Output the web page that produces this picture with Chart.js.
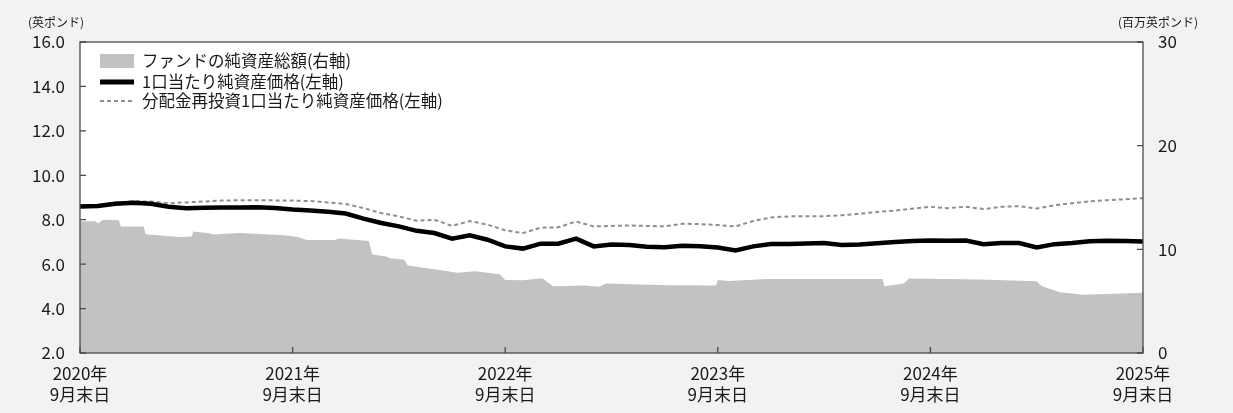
<!DOCTYPE html>
<html>
<head>
<meta charset="utf-8">
<script src="https://cdn.jsdelivr.net/npm/chart.js@4.4.1/dist/chart.umd.min.js"></script>
<style>
  html, body { margin: 0; padding: 0; background: #f1f2f1; }
  #wrap { position: relative; width: 1233px; height: 413px; }
  canvas { display: block; }
</style>
</head>
<body>
<div id="wrap"><canvas id="fundChart" width="1233" height="413"></canvas></div>
<script>
// x axis: months after end of Sept 2020 (0 .. 60), labelled once a year
const yearLabels = ['2020年', '2021年', '2022年', '2023年', '2024年', '2025年'];
const monthLabel = '9月末日';

// 1口当たり純資産価格 (英ポンド, left axis), one value per month end
const navPerUnit = [
  8.60, 8.62, 8.72, 8.76, 8.72, 8.58, 8.52, 8.54, 8.55, 8.55,
  8.56, 8.53, 8.46, 8.42, 8.36, 8.28, 8.05, 7.85, 7.70, 7.50,
  7.40, 7.15, 7.30, 7.10, 6.80, 6.70, 6.92, 6.92, 7.15, 6.80,
  6.88, 6.86, 6.78, 6.76, 6.83, 6.80, 6.75, 6.62, 6.80, 6.91,
  6.91, 6.93, 6.95, 6.86, 6.88, 6.94, 7.00, 7.04, 7.06, 7.05,
  7.06, 6.90, 6.95, 6.95, 6.75, 6.90, 6.95, 7.03, 7.05, 7.04,
  7.02
];

// 分配金再投資1口当たり純資産価格 (英ポンド, left axis)
const navReinvested = [
  8.63, 8.66, 8.76, 8.83, 8.82, 8.74, 8.78, 8.82, 8.86, 8.88,
  8.88, 8.87, 8.86, 8.84, 8.78, 8.71, 8.52, 8.30, 8.15, 7.95,
  8.00, 7.72, 7.94, 7.78, 7.52, 7.40, 7.64, 7.66, 7.92, 7.70,
  7.72, 7.74, 7.72, 7.70, 7.82, 7.80, 7.76, 7.70, 7.94, 8.10,
  8.15, 8.16, 8.16, 8.20, 8.27, 8.35, 8.41, 8.50, 8.58, 8.52,
  8.58, 8.48, 8.58, 8.61, 8.50, 8.65, 8.74, 8.83, 8.88, 8.92,
  8.97
];

// ファンドの純資産総額 (百万英ポンド, right axis): month positions and values
const fundMonths = [
  0, 0.9, 1.0, 1.3, 2.2, 2.3, 3.6, 3.7, 5.6, 6.3,
  6.4, 7.3, 7.5, 9.0, 11.5, 12.3, 12.8, 14.4, 14.6, 16.3,
  16.5, 17.3, 17.5, 18.3, 18.5, 20.4, 21.3, 22.3, 23.7, 24.0,
  25.0, 26.1, 26.7, 28.5, 29.3, 29.7, 33.1, 35.9, 36.0, 36.6,
  38.8, 45.3, 45.4, 46.5, 46.8, 50.8, 54.0, 54.3, 55.3, 56.3,
  56.5, 58.0, 60.0
];
const fundAssets = [
  12.70, 12.70, 12.50, 12.86, 12.80, 12.20, 12.20, 11.45, 11.20, 11.25,
  11.73, 11.55, 11.42, 11.58, 11.35, 11.20, 10.90, 10.90, 11.05, 10.80,
  9.50, 9.30, 9.15, 9.00, 8.45, 7.98, 7.73, 7.88, 7.60, 7.05,
  7.02, 7.20, 6.45, 6.50, 6.40, 6.70, 6.53, 6.50, 7.05, 6.95,
  7.15, 7.15, 6.45, 6.70, 7.18, 7.08, 6.92, 6.45, 5.86, 5.70,
  5.62, 5.70, 5.80
];

const legendItems = [
  'ファンドの純資産総額(右軸)',
  '1口当たり純資産価格(左軸)',
  '分配金再投資1口当たり純資産価格(左軸)'
];
const leftUnit = '(英ポンド)';
const rightUnit = '(百万英ポンド)';

const FONT = '"Noto Sans CJK JP", "Noto Sans", sans-serif';
const INK = '#1a1a1a';
const AREA = '#c1c2c1';
const DASH = '#8e8e8e';

const decor = {
  id: 'decor',
  beforeDraw(chart) {
    const { ctx, chartArea: a } = chart;
    ctx.save();
    ctx.fillStyle = '#f1f2f1';
    ctx.fillRect(0, 0, chart.width, chart.height);
    ctx.fillStyle = '#fff';
    ctx.fillRect(a.left, a.top, a.right - a.left, a.bottom - a.top);
    ctx.restore();
  },
  afterDraw(chart) {
    const { ctx, chartArea: a, scales } = chart;
    ctx.save();
    ctx.strokeStyle = '#4a4a4a';
    ctx.lineWidth = 1.3;
    ctx.strokeRect(a.left, a.top, a.right - a.left, a.bottom - a.top);

    // inward tick marks
    ctx.beginPath();
    scales.y.ticks.forEach((t) => {
      const py = scales.y.getPixelForValue(t.value);
      ctx.moveTo(a.left, py);
      ctx.lineTo(a.left + 6, py);
    });
    scales.y1.ticks.forEach((t) => {
      const py = scales.y1.getPixelForValue(t.value);
      ctx.moveTo(a.right, py);
      ctx.lineTo(a.right - 6, py);
    });
    scales.x.ticks.forEach((t) => {
      const px = scales.x.getPixelForValue(t.value);
      ctx.moveTo(px, a.bottom);
      ctx.lineTo(px, a.bottom - 6);
    });
    ctx.stroke();

    // legend
    const lx = 100, lw = 34, tx = 142;
    const rows = [61, 82, 101];
    ctx.fillStyle = AREA;
    ctx.fillRect(lx, rows[0] - 7, lw, 14);
    ctx.strokeStyle = '#000';
    ctx.lineWidth = 5;
    ctx.beginPath();
    ctx.moveTo(lx, rows[1]);
    ctx.lineTo(lx + lw, rows[1]);
    ctx.stroke();
    ctx.strokeStyle = DASH;
    ctx.lineWidth = 2;
    ctx.setLineDash([4, 3]);
    ctx.beginPath();
    ctx.moveTo(lx, rows[2]);
    ctx.lineTo(lx + lw, rows[2]);
    ctx.stroke();
    ctx.setLineDash([]);

    ctx.fillStyle = INK;
    ctx.font = '16.5px ' + FONT;
    ctx.textAlign = 'left';
    ctx.textBaseline = 'middle';
    legendItems.forEach((txt, i) => ctx.fillText(txt, tx, rows[i]));

    // unit labels
    ctx.font = '12px ' + FONT;
    ctx.fillText(leftUnit, 28, 22);
    ctx.textAlign = 'right';
    ctx.fillText(rightUnit, 1198, 22);
    ctx.restore();
  }
};

const tickFont = { family: FONT, size: 17, lineHeight: 1.25 };

new Chart(document.getElementById('fundChart'), {
  type: 'line',
  data: {
    datasets: [
      {
        label: legendItems[1],
        data: navPerUnit.map((v, i) => ({ x: i, y: v })),
        yAxisID: 'y',
        borderColor: '#000',
        borderWidth: 4.5,
        pointRadius: 0,
        tension: 0,
        fill: false
      },
      {
        label: legendItems[2],
        data: navReinvested.map((v, i) => ({ x: i, y: v })),
        yAxisID: 'y',
        borderColor: DASH,
        borderWidth: 2,
        borderDash: [4, 3],
        pointRadius: 0,
        tension: 0,
        fill: false
      },
      {
        label: legendItems[0],
        data: fundMonths.map((m, i) => ({ x: m, y: fundAssets[i] })),
        yAxisID: 'y1',
        borderWidth: 0,
        borderColor: AREA,
        backgroundColor: AREA,
        pointRadius: 0,
        tension: 0,
        fill: 'origin'
      }
    ]
  },
  options: {
    responsive: false,
    animation: false,
    layout: { padding: { top: 42, left: 0, right: 0, bottom: 0 } },
    plugins: { legend: { display: false }, tooltip: { enabled: false } },
    scales: {
      x: {
        type: 'linear',
        min: 0,
        max: 60,
        afterBuildTicks: (s) => { s.ticks = yearLabels.map((_, i) => ({ value: i * 12 })); },
        ticks: {
          autoSkip: false,
          maxRotation: 0,
          padding: 2,
          color: INK,
          font: tickFont,
          callback: (v) => [yearLabels[Math.round(v / 12)], monthLabel]
        },
        grid: { display: false },
        border: { display: false },
        afterFit: (s) => { s.height = 60; }
      },
      y: {
        position: 'left',
        min: 2,
        max: 16,
        ticks: { stepSize: 2, padding: 7, color: INK, font: tickFont, callback: (v) => v.toFixed(1) },
        grid: { display: false },
        border: { display: false },
        afterFit: (s) => { s.width = 80; }
      },
      y1: {
        position: 'right',
        min: 0,
        max: 30,
        ticks: { stepSize: 10, padding: 7, color: INK, font: tickFont },
        grid: { display: false },
        border: { display: false },
        afterFit: (s) => { s.width = 90; }
      }
    }
  },
  plugins: [decor]
});
</script>
</body>
</html>
